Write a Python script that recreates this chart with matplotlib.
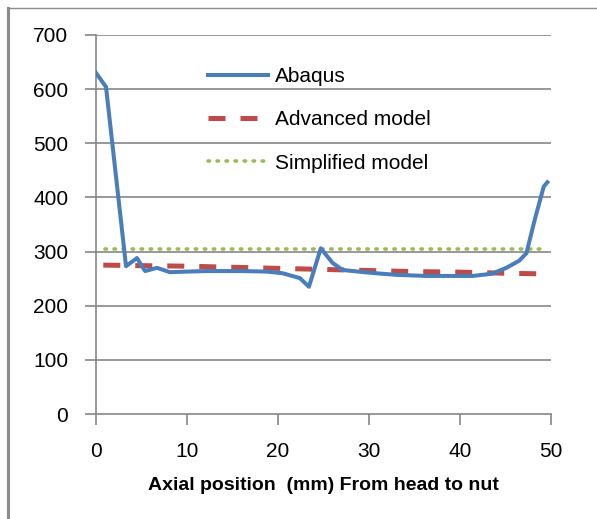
import matplotlib
matplotlib.use("Agg")
import matplotlib.pyplot as plt
from matplotlib.lines import Line2D

# ----------------------------------------------------------------------
# Data
# ----------------------------------------------------------------------
abaqus_x = [0.0, 1.1, 3.3, 4.5, 5.4, 6.7, 8.1, 12, 16, 18.8, 20.5, 22.4,
            23.4, 24.7, 26.0, 27.1, 30, 33, 36.3, 41.4, 43.5, 45.1, 46.5,
            47.3, 48.2, 49.2, 49.6]
abaqus_y = [630, 604, 273, 288, 264, 270, 262, 264, 264, 263, 260, 251,
            235, 306, 279, 266, 261, 257, 255, 255, 259, 270, 283,
            297, 358, 420, 428]

advanced_x = [0.8, 5, 10, 15, 20, 25, 30, 35, 40, 45, 48.4]
advanced_y = [275, 274, 273, 271, 269, 267, 265, 263, 262, 260, 259]

simplified_x = [1.0, 49.5]
simplified_y = [304, 304]

series_names = ["Abaqus", "Advanced model", "Simplified model"]
x_ticks = [0, 10, 20, 30, 40, 50]
y_ticks = [0, 100, 200, 300, 400, 500, 600, 700]
x_label = "Axial position  (mm) From head to nut"

# ----------------------------------------------------------------------
# Plot
# ----------------------------------------------------------------------
plt.rcParams["font.family"] = ["Liberation Sans", "DejaVu Sans"]

grey = "#868686"
blue = "#4a7ebb"
red = "#be4b48"
green = "#9bbb59"
dash_style = (0, (3.4, 3.0))
dot_style = (0, (0.4, 2.1))

fig = plt.figure(figsize=(5.97, 5.19), dpi=100)
ax = fig.add_axes([96 / 597, 1 - 414 / 519, (551 - 96) / 597, (414 - 35) / 519])

for yv in y_ticks[1:]:
    ax.axhline(yv, color=grey, lw=1.2, zorder=1)

ax.plot(simplified_x, simplified_y, color=green, lw=2.6,
        linestyle=dot_style, dash_capstyle="round", zorder=2)
ax.plot(advanced_x, advanced_y, color=red, lw=3.6,
        linestyle=dash_style, zorder=3)
ax.plot(abaqus_x, abaqus_y, color=blue, lw=2.9, zorder=4,
        solid_joinstyle="round")

ax.set_xlim(0, 50)
ax.set_ylim(0, 700)
ax.set_xticks(x_ticks)
ax.set_yticks(y_ticks)
for s in ["top", "right"]:
    ax.spines[s].set_visible(False)
for s in ["left", "bottom"]:
    ax.spines[s].set_color(grey)
    ax.spines[s].set_linewidth(1.2)
ax.tick_params(axis="both", colors=grey, width=1.2, length=8,
               labelcolor="black", labelsize=15)
ax.tick_params(axis="x", pad=12)
ax.tick_params(axis="y", pad=12)
ax.set_xlabel(x_label, fontsize=14, fontweight="bold", labelpad=12)

handles = [
    Line2D([], [], color=blue, lw=2.9),
    Line2D([], [], color=red, lw=3.6, linestyle=dash_style),
    Line2D([], [], color=green, lw=2.6, linestyle=dot_style,
           dash_capstyle="round"),
]
ax.legend(handles, series_names, loc="upper left",
          bbox_to_anchor=(0.205, 0.965), frameon=False, fontsize=15,
          handlelength=2.9, handletextpad=0.3, labelspacing=1.17)

# chart-area border (top and left edges only visible)
fig.add_artist(Line2D([8 / 597, 1.0], [1 - 8 / 519, 1 - 8 / 519],
                      transform=fig.transFigure, color="#8c8c8c", lw=1.0))
fig.add_artist(Line2D([7.5 / 597, 7.5 / 597], [0.0, 1 - 8 / 519],
                      transform=fig.transFigure, color="#8c8c8c", lw=2.2))

fig.savefig("out.png", dpi=100)
